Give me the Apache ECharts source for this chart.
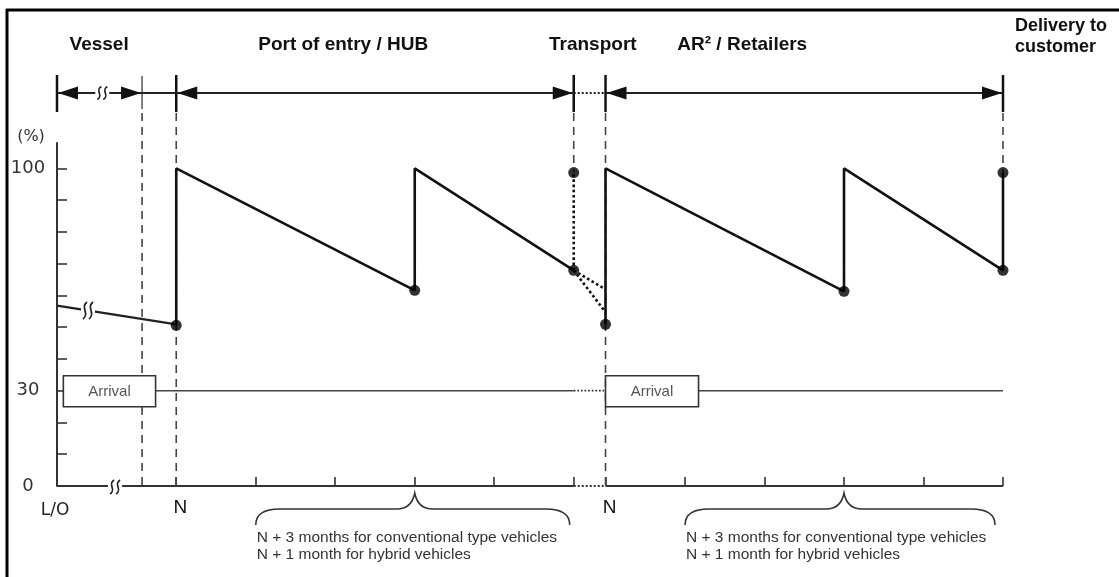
<!DOCTYPE html>
<html><head><meta charset="utf-8">
<script src="https://cdn.jsdelivr.net/npm/echarts@6/dist/echarts.min.js"></script>
<style>html,body{margin:0;padding:0;background:#fff}#c{width:1119px;height:577px}</style>
</head><body><div id="c"></div>
<script>
// ---- data ----
const phaseEdges = [-1.5, -0.43, 0, 5, 5.4, 10.4];
const phaseNames = ['Vessel', 'Port of entry / HUB', 'Transport', 'AR\u00b2 / Retailers', 'Delivery to\ncustomer'];
const phaseLabelX = [-0.97, 2.1, 5.24, 7.12, 10.55];
const spanFrom = [-1.5, -0.43, 0, 5, 5.4];
const spanTo = [-0.43, 0, 5, 5.4, 10.4];
const spanKind = ['break', 'plain', 'arrow', 'dotted', 'arrow'];
const dashedGuides = [[-0.43, 0], [0, 0], [5, 98.7], [5.4, 0], [10.4, 98.7]];
const vesselStock = [[-1.5, 56.8], [0, 50.9]];
const hubStock = [[0, 50.6], [0, 100], [3, 61.6], [3, 100], [5, 67.9]];
const retailStock = [[5.4, 50.9], [5.4, 100], [8.4, 61.3], [8.4, 100], [10.4, 67.9], [10.4, 98.7]];
const stockPoints = [[0, 50.6], [3, 61.6], [5, 67.9], [5, 98.7], [5.4, 50.9], [8.4, 61.3], [10.4, 67.9], [10.4, 98.7]];
const transportLinks = [[[5, 67.9], [5, 98.7]], [[5, 67.9], [5.4, 61.9]], [[5, 67.9], [5.4, 54.7]]];
const arrivalLevel = 30;
const arrivalBoxes = [[-1.42, -0.26], [5.4, 6.57]];
const arrivalSolid = [[[-0.26, 30], [5, 30]], [[6.57, 30], [10.4, 30]]];
const arrivalDotted = [[5, 30], [5.4, 30]];
const axisSolid = [[[-1.5, 0], [5, 0]], [[5.4, 0], [10.4, 0]]];
const axisDotted = [[5, 0], [5.4, 0]];
const xTicks = [0, 1, 2, 3, 4, 5, 5.4, 6.4, 7.4, 8.4, 9.4, 10.4];
const xLabelValues = [-1.5, 0, 5.4];
const xLabelText = ['L/O', 'N', 'N'];
const yTicks = [0, 10, 20, 30, 40, 50, 60, 70, 80, 90, 100];
const yLabels = [0, 30, 100];
const breakVesselX = -1.11;
const breakTopX = -0.93;
const breakAxisX = -0.77;
const braces = [[1, 3, 4.95], [6.4, 8.4, 10.3]];
const braceNotes = ['N + 3 months for conventional type vehicles', 'N + 1 month for hybrid vehicles'];

// ---- helpers ----
const TOP_Y = 93;
function breakMark(cx, cy, h) {
  const s = [];
  s.push({type: 'rect', shape: {x: cx - 7, y: cy - 4, width: 14, height: 8}, style: {fill: '#fff'}});
  [-3, 3].forEach(function (d) {
    const x = cx + d;
    s.push({type: 'bezierCurve', shape: {x1: x + 2, y1: cy - h / 2, cpx1: x - 5, cpy1: cy - h / 6, cpx2: x + 5, cpy2: cy + h / 6, x2: x - 2, y2: cy + h / 2},
      style: {stroke: '#222', lineWidth: 1.7, fill: null}});
  });
  return s;
}
function lineSeries(data, type, width, color, z) {
  return {type: 'line', data: data, symbol: 'none', silent: true, clip: false, z: z || 3,
    lineStyle: {color: color || '#111', width: width, type: type || 'solid'}, animation: false};
}

const series = [];
// dashed guides
series.push({type: 'custom', z: 1, clip: false, silent: true, animation: false,
  data: dashedGuides,
  renderItem: function (p, api) {
    const x = api.coord([api.value(0), 0])[0];
    const yb = api.coord([0, api.value(1)])[1];
    return {type: 'line', shape: {x1: x, y1: 113, x2: x, y2: yb}, style: {stroke: '#444', lineWidth: 1.6, lineDash: [8, 6]}};
  }});
// phase bars
series.push({type: 'custom', z: 4, clip: false, silent: true, animation: false,
  data: phaseEdges.map(function (v) { return [v, 0]; }),
  renderItem: function (p, api) {
    const x = api.coord([api.value(0), 0])[0];
    const thin = p.dataIndex === 1;
    return {type: 'line', shape: {x1: x, y1: thin ? 76 : 75, x2: x, y2: thin ? 109 : 112},
      style: {stroke: thin ? '#555' : '#111', lineWidth: thin ? 1.5 : 2.5}};
  }});
// spans (arrows on top row)
series.push({type: 'custom', z: 4, clip: false, silent: true, animation: false,
  data: spanFrom.map(function (v, i) { return [v, 0, spanTo[i]]; }),
  renderItem: function (p, api) {
    const x0 = api.coord([api.value(0), 0])[0];
    const x1 = api.coord([api.value(2), 0])[0];
    const kind = spanKind[p.dataIndex];
    const ch = [];
    ch.push({type: 'line', shape: {x1: x0, y1: TOP_Y, x2: x1, y2: TOP_Y},
      style: {stroke: '#222', lineWidth: kind === 'dotted' ? 2 : 1.9, lineDash: kind === 'dotted' ? [2, 2] : null}});
    if (kind === 'arrow' || kind === 'break') {
      ch.push({type: 'polygon', shape: {points: [[x0 + 1, TOP_Y], [x0 + 21, TOP_Y - 6.5], [x0 + 21, TOP_Y + 6.5]]}, style: {fill: '#111'}});
      ch.push({type: 'polygon', shape: {points: [[x1 - 1, TOP_Y], [x1 - 21, TOP_Y - 6.5], [x1 - 21, TOP_Y + 6.5]]}, style: {fill: '#111'}});
    }
    if (kind === 'break') {
      const bx = api.coord([breakTopX, 0])[0];
      breakMark(bx, TOP_Y, 13).forEach(function (e) { ch.push(e); });
    }
    return {type: 'group', children: ch};
  }});
// phase titles
series.push({type: 'custom', z: 5, clip: false, silent: true, animation: false,
  data: phaseLabelX.map(function (v) { return [v, 0]; }),
  renderItem: function (p, api) {
    const x = api.coord([api.value(0), 0])[0];
    const last = p.dataIndex === phaseNames.length - 1;
    return {type: 'text', x: x, y: last ? 16 : 45,
      style: {text: phaseNames[p.dataIndex], fill: '#111', font: (last ? 'bold 18px' : 'bold 19px') + ' "Liberation Sans", Arial, sans-serif',
        align: last ? 'left' : 'center', verticalAlign: last ? 'top' : 'middle', lineHeight: 21}};
  }});
// x axis line
axisSolid.forEach(function (d) { series.push(lineSeries(d, 'solid', 2, '#333', 2)); });
series.push(lineSeries(axisDotted, 'dotted', 2, '#333', 2));
// axis break
series.push({type: 'custom', z: 6, clip: false, silent: true, animation: false, data: [[breakAxisX, 0]],
  renderItem: function (p, api) {
    const c = api.coord([api.value(0), api.value(1)]);
    return {type: 'group', children: breakMark(c[0], c[1] + 1, 14)};
  }});
// arrival level lines
arrivalSolid.forEach(function (d) { series.push(lineSeries(d, 'solid', 1.6, '#444', 2)); });
series.push(lineSeries(arrivalDotted, 'dotted', 1.8, '#333', 2));
// arrival boxes
series.push({type: 'custom', z: 6, clip: false, silent: true, animation: false,
  data: arrivalBoxes.map(function (b) { return [b[0], arrivalLevel, b[1]]; }),
  renderItem: function (p, api) {
    const a = api.coord([api.value(0), api.value(1)]);
    const b = api.coord([api.value(2), api.value(1)]);
    return {type: 'group', children: [
      {type: 'rect', shape: {x: a[0], y: a[1] - 15, width: b[0] - a[0], height: 31}, style: {fill: '#fff', stroke: '#333', lineWidth: 1.6}},
      {type: 'text', x: (a[0] + b[0]) / 2, y: a[1] + 1, style: {text: 'Arrival', fill: '#555', font: '15px "Liberation Sans", Arial, sans-serif', align: 'center', verticalAlign: 'middle'}}
    ]};
  }});
// stock lines
series.push(lineSeries(vesselStock, 'solid', 2.2, '#222', 3));
series.push(lineSeries(hubStock, 'solid', 2.6, '#111', 4));
series.push(lineSeries(retailStock, 'solid', 2.6, '#111', 4));
transportLinks.forEach(function (d) { series.push(lineSeries(d, 'dotted', 2.6, '#111', 4)); });
// vessel break
series.push({type: 'custom', z: 6, clip: false, silent: true, animation: false, data: [[breakVesselX, 0]],
  renderItem: function (p, api) {
    const t = (api.value(0) - vesselStock[0][0]) / (vesselStock[1][0] - vesselStock[0][0]);
    const yv = vesselStock[0][1] + t * (vesselStock[1][1] - vesselStock[0][1]);
    const c = api.coord([api.value(0), yv]);
    return {type: 'group', children: breakMark(c[0], c[1], 17)};
  }});
// points
series.push({type: 'scatter', data: stockPoints, symbolSize: 11, itemStyle: {color: '#000'}, z: 7, silent: true, animation: false});
// braces
series.push({type: 'custom', z: 5, clip: false, silent: true, animation: false,
  data: braces,
  renderItem: function (p, api) {
    const y0 = api.coord([0, 0])[1];
    const x0 = api.coord([api.value(0), 0])[0];
    const xt = api.coord([api.value(1), 0])[0];
    const x1 = api.coord([api.value(2), 0])[0];
    const yf = y0 + 23, ye = y0 + 39, yt = y0 + 7;
    const path = 'M' + x0 + ',' + ye + ' Q' + x0 + ',' + yf + ' ' + (x0 + 24) + ',' + yf +
      ' L' + (xt - 18) + ',' + yf + ' Q' + (xt - 3) + ',' + yf + ' ' + xt + ',' + yt +
      ' Q' + (xt + 3) + ',' + yf + ' ' + (xt + 18) + ',' + yf +
      ' L' + (x1 - 24) + ',' + yf + ' Q' + x1 + ',' + yf + ' ' + x1 + ',' + ye;
    return {type: 'group', children: [
      {type: 'path', shape: {pathData: path}, style: {stroke: '#333', lineWidth: 1.5, fill: null}},
      {type: 'text', x: x0 + 1, y: y0 + 52, style: {text: braceNotes[0], fill: '#333', font: '15.5px "Liberation Sans", Arial, sans-serif', align: 'left', verticalAlign: 'middle'}},
      {type: 'text', x: x0 + 1, y: y0 + 69, style: {text: braceNotes[1], fill: '#333', font: '15.5px "Liberation Sans", Arial, sans-serif', align: 'left', verticalAlign: 'middle'}}
    ]};
  }});

const chart = echarts.init(document.getElementById('c'), null, {renderer: 'canvas'});
chart.setOption({
  animation: false,
  backgroundColor: '#fff',
  grid: {left: 57, right: 116, top: 143, bottom: 91, containLabel: false},
  xAxis: {type: 'value', min: -1.5, max: 10.4,
    axisLine: {show: false, onZero: false},
    splitLine: {show: false},
    axisTick: {show: true, inside: true, length: 9, customValues: xTicks, lineStyle: {color: '#333', width: 1.6}},
    axisLabel: {show: true, customValues: xLabelValues, margin: 12,
      formatter: function (v) {
        for (let i = 0; i < xLabelValues.length; i++) if (Math.abs(xLabelValues[i] - v) < 1e-6) return i === 0 ? '{lo|' + xLabelText[i] + '}' : '{n|' + xLabelText[i] + '}';
        return '';
      },
      rich: {lo: {fontSize: 17, fontFamily: 'DejaVu Sans', color: '#222', padding: [4, 4, 0, 0]},
             n: {fontSize: 19, fontFamily: 'Liberation Sans', color: '#111', padding: [0, 0, 0, 8]}}}
  },
  yAxis: {type: 'value', min: 0, max: 108,
    name: '(%)', nameLocation: 'end', nameGap: -2,
    nameTextStyle: {fontSize: 16, fontFamily: 'DejaVu Sans', color: '#333', padding: [0, 52, 0, 0], align: 'center'},
    axisLine: {show: true, onZero: false, lineStyle: {color: '#333', width: 2}},
    splitLine: {show: false},
    axisTick: {show: true, inside: true, length: 10, customValues: yTicks, lineStyle: {color: '#333', width: 1.6}},
    axisLabel: {customValues: yLabels, margin: 29, align: 'center', fontSize: 18, fontFamily: 'DejaVu Sans', color: '#333'}
  },
  graphic: [
    {type: 'line', shape: {x1: 7, y1: 9, x2: 7, y2: 577}, style: {stroke: '#000', lineWidth: 3}, z: 10},
    {type: 'line', shape: {x1: 6, y1: 10, x2: 1119, y2: 10}, style: {stroke: '#000', lineWidth: 3}, z: 10}
  ],
  series: series
});
</script></body></html>
